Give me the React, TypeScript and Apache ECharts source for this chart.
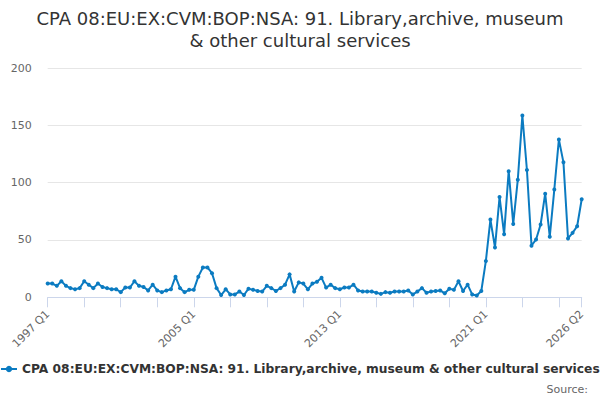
import React, { useEffect, useRef } from "react";
import * as echarts from "echarts";

const titleText = "CPA 08:EU:EX:CVM:BOP:NSA: 91. Library,archive, museum\n& other cultural services";
const seriesName = "CPA 08:EU:EX:CVM:BOP:NSA: 91. Library,archive, museum & other cultural services";

const startYear = 1997;
const endYear = 2026;
const endQuarter = 2;
const categories: string[] = [];
for (let y = startYear; y <= endYear; y++) {
  for (let q = 1; q <= 4; q++) {
    if (y === endYear && q > endQuarter) break;
    categories.push(`${y} Q${q}`);
  }
}

const values: number[] = [
  // 1997-2004
  12, 12, 10, 14, 10, 8, 7, 8, 14, 11, 8, 12, 9, 8, 7, 7,
  4.5, 8.5, 8.5, 14, 10, 9, 6, 11, 6, 4.5, 6, 7, 18, 8, 4.5, 6.5,
  // 2005-2012
  6.5, 18, 26, 26, 21, 8, 2, 7, 2.5, 2.5, 5, 2, 7.5, 6.5, 5.5, 5,
  10, 8, 5.5, 8, 11, 20, 5, 13, 12, 7, 12, 13.5, 17, 8.5, 11, 8,
  // 2013-2020
  7, 8.5, 8.5, 11, 6, 5, 5, 5, 4, 3, 4.5, 4, 5, 5, 5, 6,
  2.5, 5, 8, 4, 5, 5.5, 6, 3.5, 7.5, 6.5, 14, 5.5, 11, 2.5, 1.5, 5.5,
  // 2021-2026
  31.6, 67.8, 43.5, 87.5, 55, 110, 64, 102.6, 158.6, 111, 45, 50.4, 63.5, 90.4, 52.8, 94,
  137.7, 117.7, 51.3, 56.2, 62, 85.5,
];

const yTicks = { min: 0, max: 200, interval: 50 };

export default function App() {
  const ref = useRef<HTMLDivElement>(null);
  useEffect(() => {
    if (!ref.current) return;
    const chart = echarts.init(ref.current, undefined, { renderer: "svg" });
    const last = categories.length - 1;
    chart.setOption({
      animation: false,
      backgroundColor: "#ffffff",
      title: {
        text: titleText,
        left: "center",
        top: 2,
        textStyle: {
          fontFamily: "DejaVu Sans",
          fontSize: 18,
          fontWeight: "normal",
          color: "#333333",
          lineHeight: 22,
        },
      },
      legend: {
        left: 0,
        top: 363,
        padding: 0,
        itemWidth: 16,
        itemHeight: 8,
        itemGap: 4,
        textStyle: {
          fontFamily: "DejaVu Sans",
          fontSize: 12.25,
          fontWeight: "bold",
          color: "#333333",
        },
        data: [seriesName],
      },
      graphic: [
        {
          type: "text",
          right: 12,
          top: 384,
          style: {
            text: "Source:",
            fontFamily: "DejaVu Sans",
            fontSize: 11,
            fill: "#666666",
          },
        },
      ],
      grid: { left: 47.7, right: 18.3, top: 68, bottom: 102.7, containLabel: false },
      xAxis: {
        type: "category",
        data: categories,
        boundaryGap: false,
        axisLine: { lineStyle: { color: "#ccd6eb" } },
        axisTick: {
          length: 10,
          lineStyle: { color: "#ccd6eb" },
          interval: (i: number) => i % 8 === 0 || i === last,
        },
        axisLabel: {
          rotate: 45,
          margin: 15,
          color: "#666666",
          fontFamily: "DejaVu Sans",
          fontSize: 11,
          interval: (i: number) => i % 32 === 0 || i === last,
        },
        splitLine: { show: false },
      },
      yAxis: {
        type: "value",
        min: yTicks.min,
        max: yTicks.max,
        interval: yTicks.interval,
        axisLine: { show: false },
        axisTick: { show: false },
        axisLabel: {
          margin: 16,
          color: "#666666",
          fontFamily: "DejaVu Sans",
          fontSize: 11,
        },
        splitLine: { lineStyle: { color: "#e6e6e6" } },
      },
      series: [
        {
          name: seriesName,
          type: "line",
          data: values,
          color: "#0b7bc1",
          lineStyle: { width: 2, color: "#0b7bc1" },
          symbol: "circle",
          symbolSize: 4,
          showAllSymbol: true,
          itemStyle: { color: "#0b7bc1" },
        },
      ],
    });
    return () => chart.dispose();
  }, []);
  return (
    <div
      ref={ref}
      style={{ position: "fixed", left: 0, top: 0, width: 600, height: 400 }}
    />
  );
}
